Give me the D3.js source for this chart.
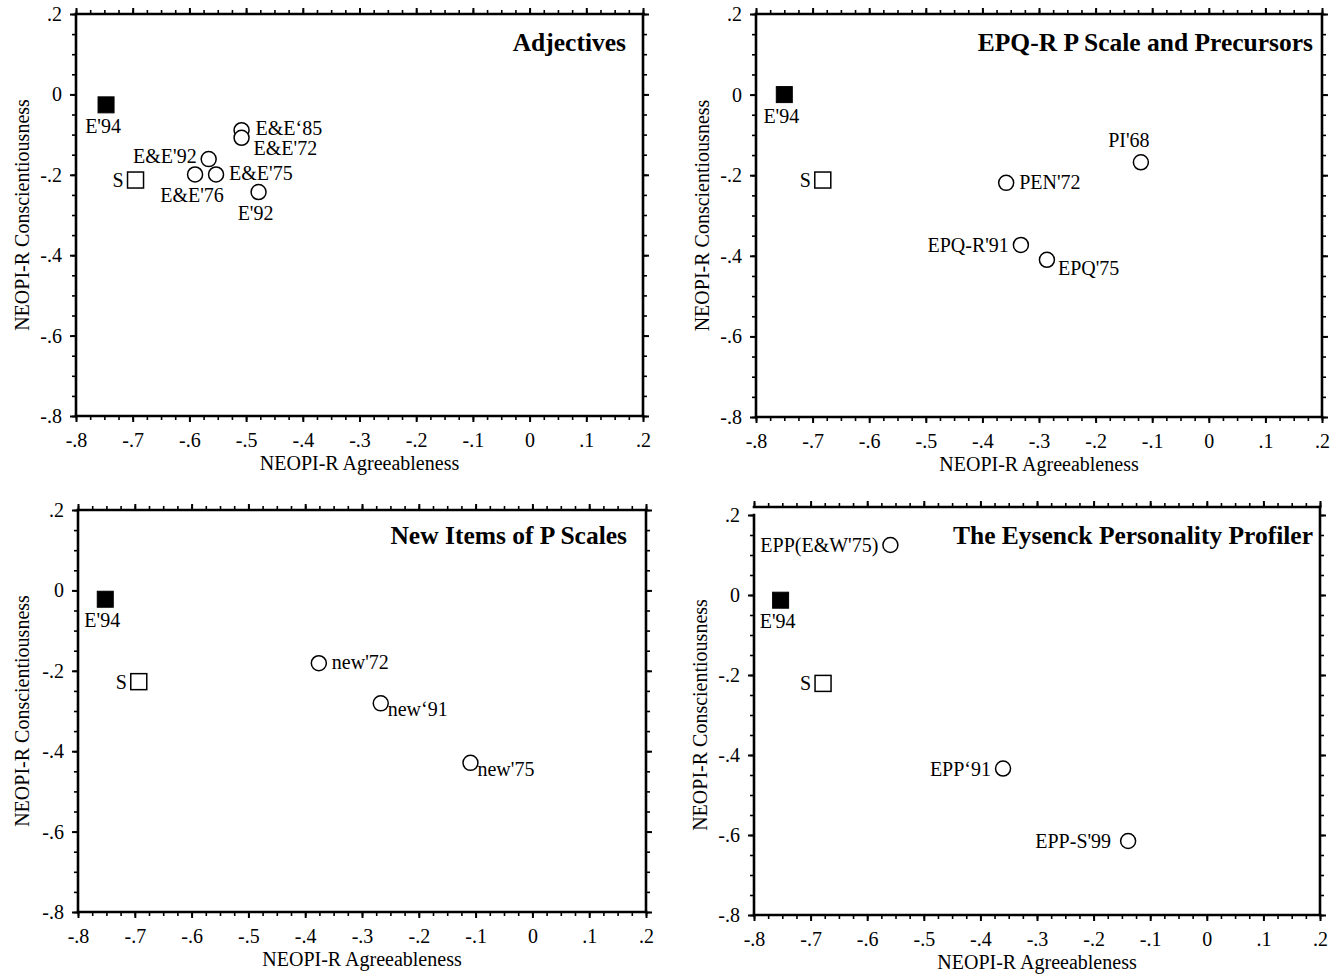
<!DOCTYPE html>
<html><head><meta charset="utf-8">
<script src="https://cdn.jsdelivr.net/npm/d3@7"></script>
<style>
body{margin:0;background:#fff}
svg{display:block}
text{font-family:"Liberation Serif","Times New Roman",Times,serif;fill:#000}
</style>
</head><body>
<svg id="chart" width="1343" height="974"></svg>
<script>
// ---------- shared axis data ----------
const xTickValues = [-0.8,-0.7,-0.6,-0.5,-0.4,-0.3,-0.2,-0.1,0,0.1,0.2];
const xTickLabels = ["-.8","-.7","-.6","-.5","-.4","-.3","-.2","-.1","0",".1",".2"];
const yTickValues = [0.2,0,-0.2,-0.4,-0.6,-0.8];
const yTickLabels = [".2","0","-.2","-.4","-.6","-.8"];
const xTitle = "NEOPI-R Agreeableness";
const yTitle = "NEOPI-R Conscientiousness";
const panelTitles = ["Adjectives","EPQ-R P Scale and Precursors","New Items of P Scales","The Eysenck Personality Profiler"];

// ---------- panel 1: Adjectives ----------
const adjNames   = ["E'94","S","E&E\u201885","E&E'72","E&E'92","E&E'76","E&E'75","E'92"];
const adjAgree   = [-0.747,-0.695,-0.508,-0.508,-0.566,-0.590,-0.553,-0.478];
const adjConsc   = [-0.026,-0.213,-0.089,-0.108,-0.161,-0.199,-0.199,-0.243];
const adjKind    = ["ref","self","scale","scale","scale","scale","scale","scale"];
const adjLabelAt = ["below","left","rightHigh","rightLow","leftAbove","below","right","below"];

// ---------- panel 2: EPQ-R P scale and precursors ----------
const epqNames   = ["E'94","S","PI'68","PEN'72","EPQ-R'91","EPQ'75"];
const epqAgree   = [-0.750,-0.682,-0.120,-0.358,-0.332,-0.286];
const epqConsc   = [0.000,-0.212,-0.168,-0.219,-0.373,-0.410];
const epqKind    = ["ref","self","scale","scale","scale","scale"];
const epqLabelAt = ["below","left","above","right","left","rightBelow"];

// ---------- panel 3: New items of P scales ----------
const newNames   = ["E'94","S","new'72","new\u201891","new'75"];
const newAgree   = [-0.752,-0.693,-0.376,-0.267,-0.109];
const newConsc   = [-0.022,-0.227,-0.181,-0.281,-0.429];
const newKind    = ["ref","self","scale","scale","scale"];
const newLabelAt = ["below","left","right","subscript","subscript"];

// ---------- panel 4: Eysenck Personality Profiler ----------
const eppNames   = ["EPP(E&W'75)","E'94","S","EPP\u201891","EPP-S'99"];
const eppAgree   = [-0.559,-0.753,-0.678,-0.360,-0.139];
const eppConsc   = [0.125,-0.013,-0.221,-0.434,-0.615];
const eppKind    = ["scale","ref","self","scale","scale"];
const eppLabelAt = ["left","below","left","left","leftFar"];

// ---------- layout (pixels) ----------
const panels = [
  {names:adjNames,a:adjAgree,c:adjConsc,kind:adjKind,at:adjLabelAt,
   L:76,R:643,T:14,B:416,frameTop:14,yTitleX:22,titleY:51,titleR:626},
  {names:epqNames,a:epqAgree,c:epqConsc,kind:epqKind,at:epqLabelAt,
   L:756,R:1322,T:14,B:417,frameTop:14,yTitleX:702,titleY:51,titleR:1313},
  {names:newNames,a:newAgree,c:newConsc,kind:newKind,at:newLabelAt,
   L:78,R:646,T:510,B:912,frameTop:510,yTitleX:22,titleY:544,titleR:627},
  {names:eppNames,a:eppAgree,c:eppConsc,kind:eppKind,at:eppLabelAt,
   L:754,R:1320,T:515,B:915,frameTop:507,yTitleX:700,titleY:544,titleR:1313}
];
const labelOffsets = {
  right:{dx:13,dy:6,anchor:"start"},
  rightHigh:{dx:14,dy:5,anchor:"start"},
  rightLow:{dx:12,dy:17,anchor:"start"},
  rightBelow:{dx:11,dy:15,anchor:"start"},
  subscript:{dx:7,dy:13,anchor:"start"},
  left:{dx:-12,dy:7,anchor:"end"},
  leftFar:{dx:-17,dy:7,anchor:"end"},
  leftAbove:{dx:-12,dy:4,anchor:"end"},
  below:{dx:-3,dy:28,anchor:"middle"},
  above:{dx:-12,dy:-15,anchor:"middle"}
};

const svg = d3.select("#chart");
const FS = 20;

panels.forEach((p,i)=>{
  const x = d3.scaleLinear().domain([-0.8,0.2]).range([p.L,p.R]);
  const y = d3.scaleLinear().domain([-0.8,0.2]).range([p.B,p.T]);
  const g = svg.append("g");

  const xMinor = d3.range(-0.8,0.2001,0.025).map(v=>+v.toFixed(3));
  const yMinor = d3.range(-0.8,0.2001,0.05).map(v=>+v.toFixed(3));

  // minor ticks on all sides
  const tickStyle = sel=>{sel.select(".domain").remove();sel.selectAll("line").attr("stroke","#000").attr("stroke-width",1.6);};
  g.append("g").attr("transform",`translate(0,${p.B})`)
    .call(d3.axisBottom(x).tickValues(xMinor).tickSize(4).tickFormat("")).call(tickStyle);
  g.append("g").attr("transform",`translate(0,${p.frameTop})`)
    .call(d3.axisTop(x).tickValues(xMinor).tickSize(4).tickFormat("")).call(tickStyle);
  g.append("g").attr("transform",`translate(${p.L},0)`)
    .call(d3.axisLeft(y).tickValues(yMinor).tickSize(4).tickFormat("")).call(tickStyle);
  g.append("g").attr("transform",`translate(${p.R},0)`)
    .call(d3.axisRight(y).tickValues(yMinor).tickSize(4).tickFormat("")).call(tickStyle);

  // major ticks + labels
  const majStyle = sel=>{sel.select(".domain").remove();sel.selectAll("line").attr("stroke","#000").attr("stroke-width",2);
    sel.selectAll("text").style("font-family",'"Liberation Serif","Times New Roman",serif').style("font-size",FS+"px").attr("fill","#000");};
  g.append("g").attr("transform",`translate(0,${p.B})`)
    .call(d3.axisBottom(x).tickValues(xTickValues).tickSize(6).tickPadding(11)
      .tickFormat((d,k)=>xTickLabels[k])).call(majStyle);
  g.append("g").attr("transform",`translate(0,${p.frameTop})`)
    .call(d3.axisTop(x).tickValues(xTickValues).tickSize(6).tickFormat("")).call(majStyle);
  g.append("g").attr("transform",`translate(${p.L},0)`)
    .call(d3.axisLeft(y).tickValues(yTickValues).tickSize(6).tickPadding(8)
      .tickFormat((d,k)=>yTickLabels[k])).call(majStyle);
  g.append("g").attr("transform",`translate(${p.R},0)`)
    .call(d3.axisRight(y).tickValues(yTickValues).tickSize(6).tickFormat("")).call(majStyle);

  // frame
  const fr = g.append("g").attr("stroke","#000").attr("stroke-width",2.6).attr("stroke-linecap","square");
  fr.append("line").attr("x1",p.L).attr("x2",p.R).attr("y1",p.B).attr("y2",p.B);
  fr.append("line").attr("x1",p.L).attr("x2",p.R).attr("y1",p.frameTop).attr("y2",p.frameTop);
  fr.append("line").attr("x1",p.L).attr("x2",p.L).attr("y1",p.T).attr("y2",p.B);
  fr.append("line").attr("x1",p.R).attr("x2",p.R).attr("y1",p.frameTop).attr("y2",p.B);

  // axis titles
  g.append("text").attr("x",(p.L+p.R)/2).attr("y",p.B+54).attr("text-anchor","middle")
    .style("font-size",FS+"px").text(xTitle);
  g.append("text").attr("transform",`translate(${p.yTitleX},${(p.T+p.B)/2}) rotate(-90)`)
    .attr("text-anchor","middle").attr("dy","0.35em").style("font-size",FS+"px").text(yTitle);

  // panel title
  g.append("text").attr("x",p.titleR).attr("y",p.titleY).attr("text-anchor","end")
    .style("font-size","25.5px").style("font-weight","bold").text(panelTitles[i]);

  // points
  const pts = p.names.map((n,k)=>({n,a:p.a[k],c:p.c[k],kind:p.kind[k],at:p.at[k]}));
  const S = 16;
  pts.forEach(d=>{
    const cx = x(d.a), cy = y(d.c);
    if(d.kind==="ref"){
      g.append("rect").attr("x",cx-S/2).attr("y",cy-S/2).attr("width",S).attr("height",S)
        .attr("fill","#000").attr("stroke","#000").attr("stroke-width",1);
    } else if(d.kind==="self"){
      g.append("rect").attr("x",cx-S/2).attr("y",cy-S/2).attr("width",S).attr("height",S)
        .attr("fill","#fff").attr("stroke","#000").attr("stroke-width",1.5);
    } else {
      g.append("circle").attr("cx",cx).attr("cy",cy).attr("r",7.5)
        .attr("fill","#fff").attr("stroke","#000").attr("stroke-width",1.5);
    }
    const o = labelOffsets[d.at];
    g.append("text").attr("x",cx+o.dx).attr("y",cy+o.dy).attr("text-anchor",o.anchor)
      .style("font-size",FS+"px").text(d.n);
  });
});
</script>
</body></html>
